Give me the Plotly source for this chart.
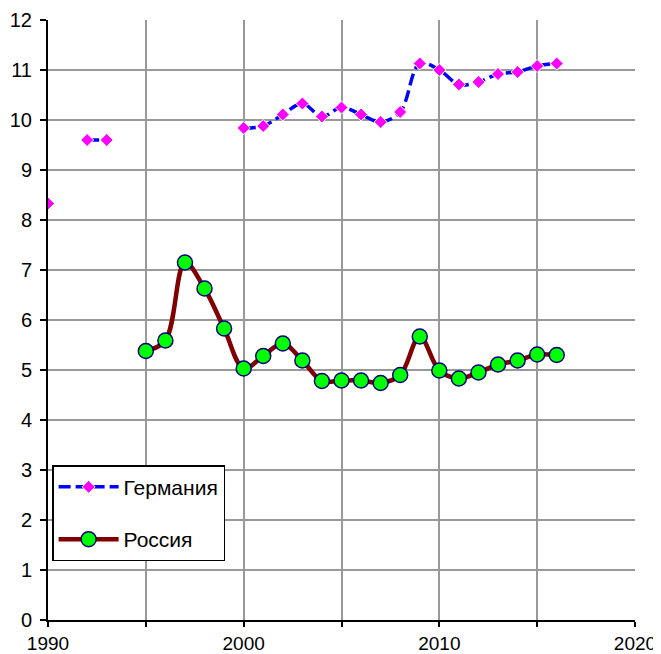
import plotly.graph_objects as go

years = list(range(1990, 2017))
germany = [8.33, None, 9.6, 9.6, None, None, None, None, None, None,
           9.84, 9.88, 10.11, 10.33, 10.07, 10.25, 10.11, 9.96, 10.16, 11.13,
           11.0, 10.71, 10.76, 10.92, 10.96, 11.08, 11.13]
russia_years = list(range(1995, 2017))
russia = [5.38, 5.59, 7.15, 6.63, 5.83, 5.03, 5.28, 5.53, 5.19, 4.78, 4.79,
          4.79, 4.74, 4.9, 5.67, 4.99, 4.83, 4.95, 5.11, 5.19, 5.31, 5.30]

x_tickvals = [1990, 1995, 2000, 2005, 2010, 2015, 2020]
x_ticktext = ["1990", "", "2000", "", "2010", "", "2020"]
y_tickvals = list(range(0, 13))

fig = go.Figure()
fig.add_trace(go.Scatter(
    x=years, y=germany, name="Германия", mode="lines+markers",
    connectgaps=False, legendgroup="g",
    line=dict(color="#0000FF", width=3.5, dash="12px,5px", shape="spline", smoothing=1.0),
    marker=dict(symbol="diamond", size=10, color="#FF00FF", line=dict(color="white", width=1)),
))
fig.add_trace(go.Scatter(
    x=russia_years, y=russia, name="Россия", mode="lines+markers",
    legendgroup="r",
    line=dict(color="#800000", width=4.5, shape="spline", smoothing=1.0),
    marker=dict(symbol="circle", size=15, color="#00FF00", line=dict(color="#000080", width=1.5)),
))

fig.update_layout(
    width=653, height=646,
    margin=dict(l=40, r=26, t=12, b=34, autoexpand=False),
    paper_bgcolor="white", plot_bgcolor="white",
    font=dict(family="Liberation Sans", size=20, color="black"),
    showlegend=True,
    legend=dict(x=0.007, y=0.258, xanchor="left", yanchor="top",
                bordercolor="black", borderwidth=1.5, bgcolor="white",
                font=dict(size=21), itemwidth=60, tracegroupgap=22,
                entrywidth=142),
)
fig.update_xaxes(range=[1990, 2020], tickvals=x_tickvals, ticktext=x_ticktext,
                 showgrid=True, gridcolor="#999999", gridwidth=2,
                 showline=True, linecolor="black", linewidth=2,
                 ticks="outside", ticklen=5, tickcolor="black", tickwidth=1.5,
                 ticklabelstandoff=0, tickfont=dict(size=19),
                 zeroline=False, fixedrange=True, automargin=False)
fig.update_yaxes(range=[0, 12], tickvals=y_tickvals,
                 showgrid=True, gridcolor="#999999", gridwidth=2,
                 showline=True, linecolor="black", linewidth=2,
                 ticks="outside", ticklen=6, tickcolor="black", tickwidth=1.5,
                 ticklabelstandoff=4,
                 zeroline=False, fixedrange=True, automargin=False)

fig.write_html("out.html")
